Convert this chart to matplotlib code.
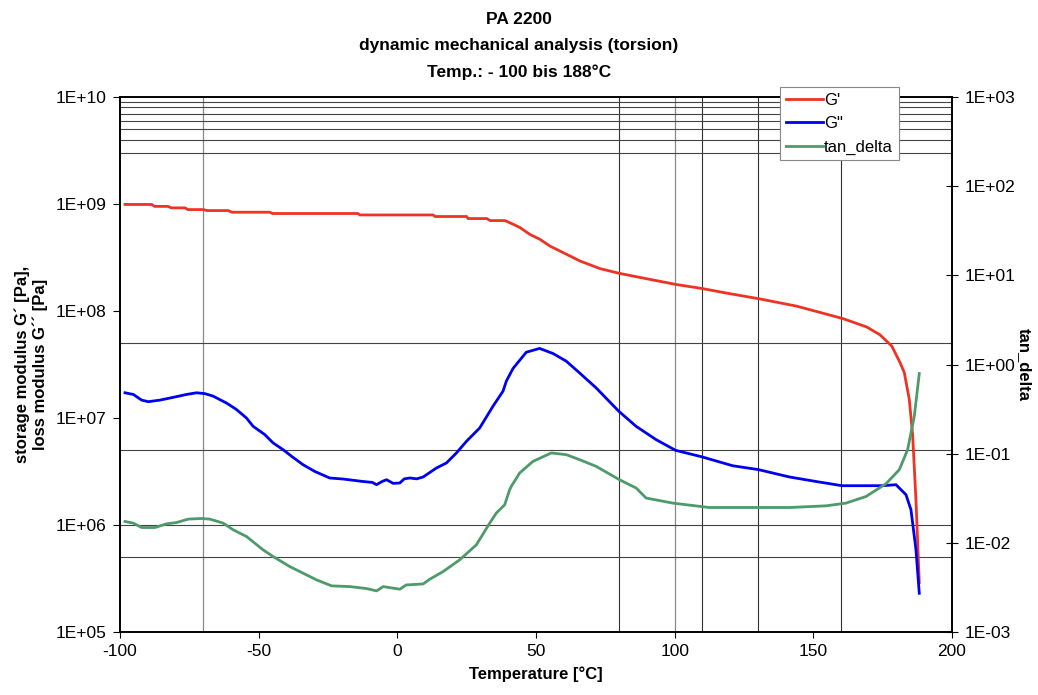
import matplotlib
matplotlib.use("Agg")
import matplotlib.pyplot as plt
from matplotlib.ticker import FixedLocator, NullLocator

plt.rcParams['font.family'] = ['Liberation Sans', 'DejaVu Sans']

# ---------------- data ----------------
title_lines = ["PA 2200", "dynamic mechanical analysis (torsion)", "Temp.: - 100 bis 188°C"]

temp_gp = [-98.2, -88.6, -87.5, -82.7, -81.5, -76.6, -75.5, -70, -68.6, -61, -59.6, -46,
           -45, -14.2, -13.5, 12.9, 13.6, 25, 25.5, 32.3, 33.4, 38.8, 41.7, 44.2, 47.8,
           51.4, 55, 61, 65.9, 73.1, 80, 90, 100.5, 110, 120, 130.5, 144, 160.6, 169.2,
           174, 178.3, 181.3, 182.8, 184.6, 185.8, 187.0, 188.2]
g_storage = [9.9e8, 9.9e8, 9.5e8, 9.5e8, 9.2e8, 9.2e8, 8.87e8, 8.87e8, 8.68e8, 8.68e8,
             8.38e8, 8.38e8, 8.15e8, 8.15e8, 7.9e8, 7.9e8, 7.64e8, 7.64e8, 7.31e8, 7.31e8,
             7.0e8, 7.0e8, 6.48e8, 6.03e8, 5.2e8, 4.68e8, 4.05e8, 3.39e8, 2.93e8, 2.49e8,
             2.25e8, 2.0e8, 1.77e8, 1.62e8, 1.45e8, 1.30e8, 1.11e8, 8.5e7, 7.1e7, 6.0e7,
             4.7e7, 3.28e7, 2.66e7, 1.49e7, 7.0e6, 1.72e6, 2.9e5]

temp_gpp = [-98.2, -95.2, -92.2, -89.8, -85.6, -80.8, -76, -72.4, -69.4, -66.4, -61.6, -58,
            -54.4, -52, -47.8, -44.8, -41.2, -38.1, -34, -29.8, -24.4, -19.6, -16, -12.4,
            -9, -7.5, -5.5, -3.9, -1.5, 0.9, 2.5, 4.5, 7, 9.3, 14.1, 17.7, 21.3, 24.9, 29.7,
            34.5, 38.1, 39.3, 41.7, 46.5, 51.3, 56.1, 60.9, 65.7, 71.7, 79.8, 86.1, 93.3,
            100.3, 109.9, 120.9, 130.3, 141.4, 151, 160.3, 175, 179.8, 183.4, 185.2, 187,
            188.2]
g_loss = [1.72e7, 1.66e7, 1.47e7, 1.42e7, 1.47e7, 1.56e7, 1.66e7, 1.72e7, 1.69e7, 1.60e7,
          1.38e7, 1.20e7, 1.0e7, 8.36e6, 7.0e6, 5.85e6, 5.06e6, 4.38e6, 3.66e6, 3.17e6,
          2.75e6, 2.69e6, 2.62e6, 2.55e6, 2.50e6, 2.38e6, 2.55e6, 2.65e6, 2.45e6, 2.47e6,
          2.70e6, 2.75e6, 2.70e6, 2.81e6, 3.41e6, 3.80e6, 4.71e6, 6.05e6, 8.07e6,
          1.29e7, 1.78e7, 2.21e7, 2.9e7, 4.12e7, 4.47e7, 4.01e7, 3.40e7, 2.64e7, 1.91e7,
          1.16e7, 8.36e6, 6.28e6, 4.99e6, 4.33e6, 3.58e6, 3.29e6, 2.81e6, 2.55e6, 2.33e6,
          2.33e6, 2.38e6, 1.92e6, 1.39e6, 5.9e5, 2.3e5]

temp_tan = [-98.2, -95.2, -92.2, -87.4, -83.2, -79.6, -75.4, -70.6, -67.6, -62.8, -59.2,
            -54.4, -48.4, -44.8, -38.8, -34, -29.1, -23.7, -17.1, -11.1, -7.5, -5.1, 0.9,
            3.2, 9.3, 11.7, 16.5, 22.5, 28.5, 33.3, 35.7, 38.7, 40.5, 41.1, 44.1, 48.9,
            55.5, 60.9, 65.7, 71.7, 80.1, 86.1, 89.7, 99.3, 112.5, 141.4, 154.6, 161.8,
            169, 176.2, 181, 184, 186.4, 188.2]
tan_delta = [0.01735, 0.01663, 0.01485, 0.01485, 0.01633, 0.0169, 0.01845, 0.01875,
             0.01845, 0.01663, 0.0140, 0.01178, 0.00834, 0.00702, 0.00542, 0.00457,
             0.00384, 0.00329, 0.00323, 0.00307, 0.00289, 0.00323, 0.00302, 0.00337,
             0.00346, 0.00391, 0.00476, 0.00645, 0.0095, 0.01663, 0.0216, 0.0267, 0.0394,
             0.0430, 0.0607, 0.0819, 0.1018, 0.0975, 0.0857, 0.0720, 0.0510, 0.0412,
             0.0318, 0.0279, 0.0249, 0.0249, 0.0260, 0.0279, 0.0331, 0.0460, 0.0661,
             0.111, 0.262, 0.792]

x_ticks = [-100, -50, 0, 50, 100, 150, 200]
left_ticks = [1e5, 1e6, 1e7, 1e8, 1e9, 1e10]
left_labels = ["1E+05", "1E+06", "1E+07", "1E+08", "1E+09", "1E+10"]
right_ticks = [1e-3, 1e-2, 1e-1, 1e0, 1e1, 1e2, 1e3]
right_labels = ["1E-03", "1E-02", "1E-01", "1E+00", "1E+01", "1E+02", "1E+03"]
grid_x_dark = [80, 110, 130, 160]
grid_x_light = [-70, 100]
grid_y = [5e5, 1e6, 5e6, 5e7, 3e9, 4e9, 5e9, 6e9, 7e9, 8e9, 9e9]

# ---------------- figure ----------------
fig = plt.figure(figsize=(10.38, 6.95), dpi=100)
ax = fig.add_axes([120/1038, 1 - 632/695, (952-120)/1038, (632-97)/695])
ax2 = ax.twinx()

ax.set_xlim(-100, 200)
ax.set_yscale('log')
ax.set_ylim(1e5, 1e10)
ax2.set_yscale('log')
ax2.set_ylim(1e-3, 1e3)

for gx in grid_x_dark:
    ax.axvline(gx, color='#333333', lw=0.8, zorder=1)
for gx in grid_x_light:
    ax.axvline(gx, color='#8a8a8a', lw=0.9, zorder=1)
for gy in grid_y:
    ax.axhline(gy, color='#444444', lw=0.8, zorder=1)

lc = '#ee3324'
lb = '#0000f0'
lg = '#4e9a6b'
l1, = ax.plot(temp_gp, g_storage, color=lc, lw=2.0, label="G'", zorder=3)
l2, = ax.plot(temp_gpp, g_loss, color=lb, lw=2.0, label='G"', zorder=3)
l3, = ax2.plot(temp_tan, tan_delta, color=lg, lw=2.0, label='tan_delta', zorder=3)

ax.xaxis.set_major_locator(FixedLocator(x_ticks))
ax.set_xticklabels([str(v) for v in x_ticks])
ax.yaxis.set_major_locator(FixedLocator(left_ticks))
ax.set_yticklabels(left_labels)
ax.yaxis.set_minor_locator(NullLocator())
ax2.yaxis.set_major_locator(FixedLocator(right_ticks))
ax2.set_yticklabels(right_labels)
ax2.yaxis.set_minor_locator(NullLocator())

ax.tick_params(axis='x', direction='out', length=4, width=0.8, labelsize=12.5, pad=5)
ax.tick_params(axis='y', direction='out', length=5, width=0.8, labelsize=12.5, pad=5)
ax2.tick_params(axis='y', direction='inout', length=8, width=0.8, labelsize=12.5, pad=5)

for a in (ax, ax2):
    for s in a.spines.values():
        s.set_linewidth(1.2)
        s.set_color('black')

ax.set_xlabel("Temperature [°C]", fontsize=12, fontweight='bold', labelpad=5)
ax.set_ylabel("storage modulus G´ [Pa],\nloss modulus G´´ [Pa]", fontsize=12,
              fontweight='bold', labelpad=5, linespacing=1.25)
ax2.set_ylabel("tan_delta", fontsize=12, fontweight='bold', rotation=270, labelpad=12)

for i, t in enumerate(title_lines):
    fig.text(0.5, 1 - (19 + i * 26.5) / 695, t, ha='center', va='center',
             fontsize=12.5, fontweight='bold')

leg = ax2.legend(handles=[l1, l2, l3], loc='upper left',
                 bbox_to_anchor=(780/1038, 1 - 87/695), bbox_transform=fig.transFigure,
                 fontsize=12, frameon=True, fancybox=False, framealpha=1,
                 edgecolor='#888888', handlelength=2.2, handletextpad=0.1,
                 labelspacing=0.5, borderpad=0.35, borderaxespad=0)
leg.get_frame().set_linewidth(0.8)
leg.set_zorder(10)

fig.savefig("out.png", dpi=100)
